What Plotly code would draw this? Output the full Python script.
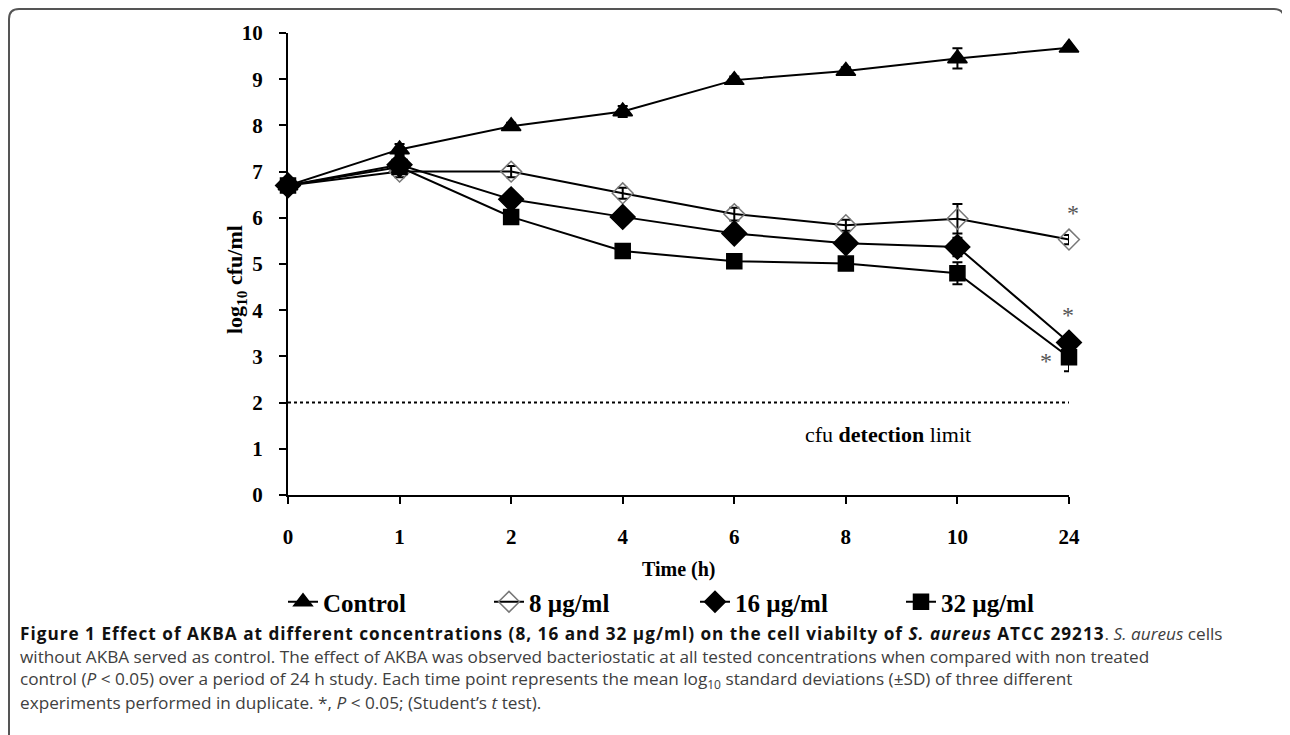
import plotly.graph_objects as go

# ---- data ----
time_labels = ["0", "1", "2", "4", "6", "8", "10", "24"]
control = [6.7, 7.48, 7.98, 8.3, 8.98, 9.18, 9.45, 9.68]
control_err = [0.08, 0.12, 0.08, 0.12, 0.08, 0.08, 0.22, 0.06]
c8 = [6.7, 7.0, 7.0, 6.53, 6.08, 5.84, 5.98, 5.53]
c8_err = [0.08, 0.12, 0.12, 0.12, 0.14, 0.12, 0.32, 0.1]
c16 = [6.7, 7.15, 6.4, 6.02, 5.66, 5.45, 5.37, 3.3]
c16_err = [0.08, 0.1, 0.08, 0.1, 0.12, 0.1, 0.2, 0.1]
c32 = [6.7, 7.1, 6.02, 5.28, 5.06, 5.01, 4.8, 2.98]
c32_err = [0.06, 0.08, 0.06, 0.06, 0.06, 0.06, 0.24, 0.3]
detection_limit = 2
series_names = ["Control", "8 µg/ml", "16 µg/ml", "32 µg/ml"]
y_ticks = list(range(0, 11))
# significance marks at 24 h (y value, pixel shift)
star_y = [6.1, 3.9, 2.9]
star_shift = [4, -1, -23]

OFF = 8  # page body margin
W, H = 1290 - 2 * OFF, 735 - OFF
L, T = 288 - OFF, 33 - OFF
R = W - (1069 - OFF)
B = H - (495 - OFF)
PW, PH = W - L - R, H - T - B


def sx(x):
    return (x - OFF - L) / PW


def sy(y):
    return (H - B - (y - OFF)) / PH


serif = "Liberation Serif"
fig = go.Figure()


def add_series(name, y, err, symbol, size, mcolor):
    fig.add_trace(go.Scatter(
        x=time_labels, y=y, name=name, mode="lines+markers",
        line=dict(color="black", width=2),
        marker=dict(symbol=symbol, size=size, color=mcolor,
                    line=dict(color=mcolor, width=1.5)),
        error_y=dict(type="data", array=err, visible=True,
                     color="black", thickness=2, width=5),
        cliponaxis=False,
    ))


add_series(series_names[0], control, control_err, "triangle-up", 17, "black")
add_series(series_names[1], c8, c8_err, "diamond-open", 16, "#777")
add_series(series_names[2], c16, c16_err, "diamond", 19, "black")
add_series(series_names[3], c32, c32_err, "square", 15, "black")

# detection limit line
fig.add_trace(go.Scatter(
    x=[time_labels[0], time_labels[-1]], y=[detection_limit, detection_limit],
    mode="lines", line=dict(color="black", width=2, dash="dot"),
    showlegend=False, hoverinfo="skip"))

fig.update_layout(
    width=W, height=H,
    margin=dict(l=L, r=R, t=T, b=B),
    paper_bgcolor="white", plot_bgcolor="white",
    showlegend=True,
    legend=dict(orientation="h", x=sx(283), y=sy(602), xanchor="left",
                yanchor="middle", font=dict(family=serif, size=25, color="black",
                                            weight="bold"),
                entrywidth=161, entrywidthmode="pixels",
                bgcolor="rgba(0,0,0,0)", itemsizing="trace"),
    xaxis=dict(type="category", range=[0, len(time_labels) - 1],
               showline=True, linecolor="black", linewidth=2,
               ticks="outside", ticklen=7, tickwidth=2, tickcolor="black",
               showgrid=False, zeroline=False,
               tickfont=dict(family=serif, size=21, color="black", weight="bold"),
               ticklabelstandoff=15),
    yaxis=dict(range=[0, 10], tickvals=y_ticks,
               showline=True, linecolor="black", linewidth=2,
               ticks="outside", ticklen=7, tickwidth=2, tickcolor="black",
               showgrid=False, zeroline=False,
               tickfont=dict(family=serif, size=21, color="black", weight="bold"),
               ticklabelstandoff=12),
)

ann = []
# axis titles
ann.append(dict(text="<b>log<sub>10</sub> cfu/ml</b>", textangle=-90,
                xref="paper", yref="paper", x=sx(236), y=sy(280),
                xanchor="center", yanchor="middle",
                showarrow=False, font=dict(family=serif, size=22, color="black")))
ann.append(dict(text="<b>Time (h)</b>", xref="paper", yref="paper",
                x=0.5, y=sy(569), xanchor="center", yanchor="middle",
                showarrow=False, font=dict(family=serif, size=20, color="black")))
# detection limit text
ann.append(dict(text="cfu <b>detection</b> limit", x=5, y=1.3,
                xshift=42, showarrow=False, xanchor="center", yanchor="middle",
                font=dict(family=serif, size=22, color="black")))
# significance asterisks
for yy, xs in zip(star_y, star_shift):
    ann.append(dict(text="*", x=len(time_labels) - 1, y=yy, xshift=xs,
                    showarrow=False, xanchor="center", yanchor="middle",
                    font=dict(family=serif, size=24, color="#555")))

# caption
cap_font = dict(family="Open Sans", size=17.2, color="#404040")
caption_lines = [
    "<b><span style='color:#111;letter-spacing:1px'>Figure 1 Effect of AKBA at different concentrations (8, 16 and 32 µg/ml) on the cell viabilty of <i>S. aureus</i> ATCC 29213</span></b>. <i>S. aureus</i> cells",
    "without AKBA served as control. The effect of AKBA was observed bacteriostatic at all tested concentrations when compared with non treated",
    "control (<i>P</i> &lt; 0.05) over a period of 24 h study. Each time point represents the mean log<sub>10</sub> standard deviations (±SD) of three different",
    "experiments performed in duplicate. *, <i>P</i> &lt; 0.05; (Student’s <i>t</i> test).",
]
for i, line in enumerate(caption_lines):
    ann.append(dict(text=line, xref="paper", yref="paper", x=sx(18),
                    y=sy(633 + i * 23.3), xanchor="left", yanchor="middle",
                    showarrow=False, font=cap_font, align="left"))

fig.update_layout(annotations=ann)

# frame (rounded top corners)
x0, y0, x1 = 9, 9, 1284
r = 10
path = (f"M {sx(x0)} {sy(760)} L {sx(x0)} {sy(y0 + r)} "
        f"Q {sx(x0)} {sy(y0)} {sx(x0 + r)} {sy(y0)} "
        f"L {sx(x1 - r)} {sy(y0)} Q {sx(x1)} {sy(y0)} {sx(x1)} {sy(y0 + r)}")
fig.add_shape(type="path", path=path, xref="paper", yref="paper",
              line=dict(color="#555", width=2), layer="above")

fig.write_html("out.html")
